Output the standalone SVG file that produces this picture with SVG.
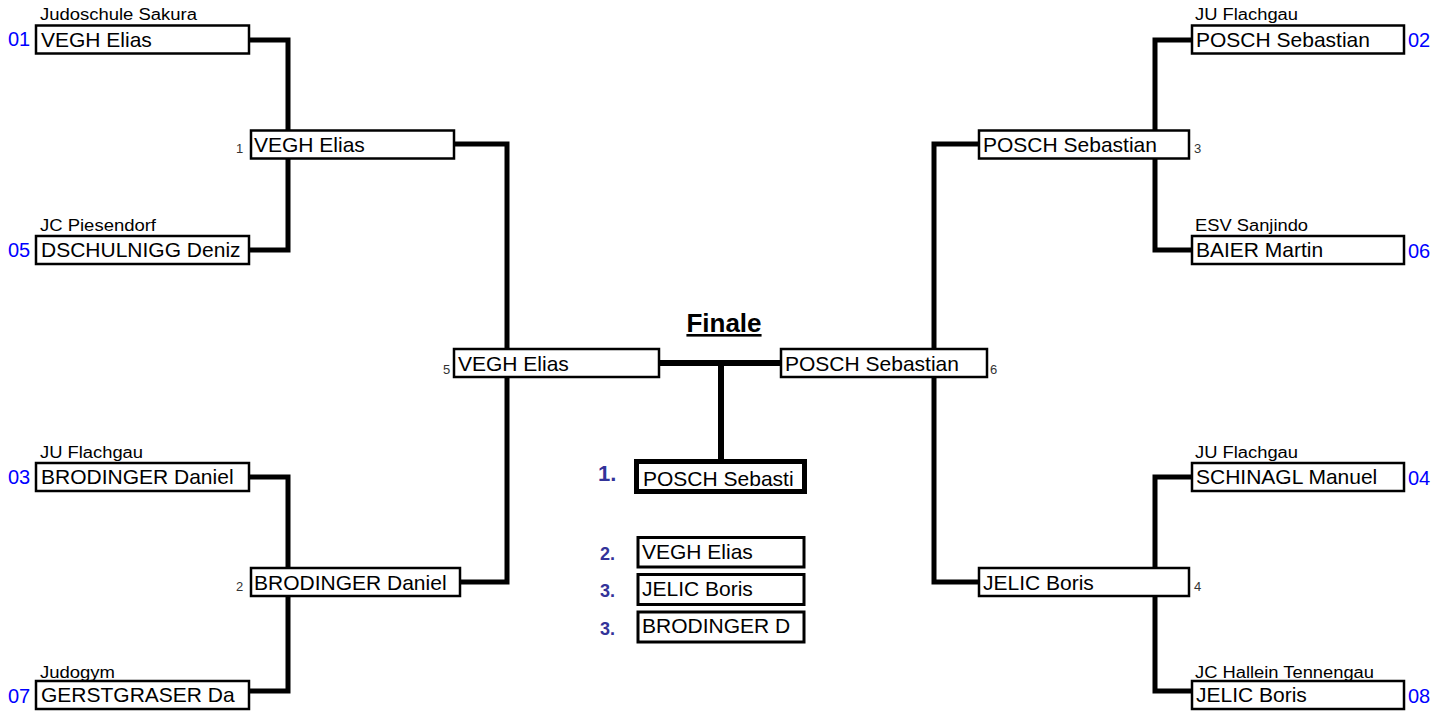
<svg xmlns="http://www.w3.org/2000/svg" width="1449" height="713" viewBox="0 0 1449 713">
<style>
.box{fill:#fff;stroke:#000;stroke-width:2.5}
.win{fill:#fff;stroke:#000;stroke-width:5}
.pl{fill:#fff;stroke:#000;stroke-width:3}
.nm{font-family:"Liberation Sans",Arial,sans-serif;font-size:21px;fill:#000}
.cl{font-family:"Liberation Sans",Arial,sans-serif;font-size:16px;fill:#000}
.sd{font-family:"Liberation Sans",Arial,sans-serif;font-size:20px;fill:#0000ff}
.rn{font-family:"Liberation Sans",Arial,sans-serif;font-size:13px;fill:#333}
.rk{font-family:"Liberation Sans",Arial,sans-serif;font-weight:bold;fill:#333399}
.ttl{font-family:"Liberation Sans",Arial,sans-serif;font-size:26px;font-weight:bold;fill:#000;text-decoration:underline}
.ln{fill:none;stroke:#000;stroke-width:5;stroke-linejoin:miter}
</style>
<rect width="1449" height="713" fill="#fff"/>
<g id="connectors">
<path class="ln" d="M249,40 H288 V250 H249"/>
<path class="ln" d="M249,477 H288 V691 H249"/>
<path class="ln" d="M454,144 H507 V582 H460"/>
<path class="ln" d="M1192,40 H1155 V250 H1192"/>
<path class="ln" d="M1192,477 H1155 V691 H1192"/>
<path class="ln" d="M979,144 H934 V582 H979"/>
<path class="ln" d="M659,363 H781" style="stroke-width:6"/>
<path class="ln" d="M721,363 V460" style="stroke-width:6"/>
</g>
<text class="ttl" x="724" y="332" text-anchor="middle">Finale</text>
<g id="n01">
<text class="cl" x="40" y="20" textLength="157" lengthAdjust="spacingAndGlyphs">Judoschule Sakura</text>
<text class="sd" x="8" y="46">01</text>
<rect class="box" x="36" y="25.5" width="213" height="28"/>
<text class="nm" x="41" y="47">VEGH Elias</text>
</g>
<g id="n05">
<text class="cl" x="40" y="231" textLength="116" lengthAdjust="spacingAndGlyphs">JC Piesendorf</text>
<text class="sd" x="8" y="257">05</text>
<rect class="box" x="36" y="236" width="213" height="28"/>
<text class="nm" x="41" y="257">DSCHULNIGG Deniz</text>
</g>
<g id="n03">
<text class="cl" x="40" y="458" textLength="103" lengthAdjust="spacingAndGlyphs">JU Flachgau</text>
<text class="sd" x="8" y="484">03</text>
<rect class="box" x="36" y="463" width="213" height="28"/>
<text class="nm" x="41" y="484">BRODINGER Daniel</text>
</g>
<g id="n07">
<text class="cl" x="40" y="678" textLength="75" lengthAdjust="spacingAndGlyphs">Judogym</text>
<text class="sd" x="8" y="703">07</text>
<rect class="box" x="36" y="681" width="213" height="28"/>
<text class="nm" x="41" y="702">GERSTGRASER Da</text>
</g>
<g id="n02">
<text class="cl" x="1195" y="20" textLength="103" lengthAdjust="spacingAndGlyphs">JU Flachgau</text>
<rect class="box" x="1192" y="25.5" width="212" height="28"/>
<text class="nm" x="1196" y="47">POSCH Sebastian</text>
<text class="sd" x="1408" y="47">02</text>
</g>
<g id="n06">
<text class="cl" x="1195" y="231" textLength="113" lengthAdjust="spacingAndGlyphs">ESV Sanjindo</text>
<rect class="box" x="1192" y="236" width="212" height="28"/>
<text class="nm" x="1196" y="257">BAIER Martin</text>
<text class="sd" x="1408" y="258">06</text>
</g>
<g id="n04">
<text class="cl" x="1195" y="458" textLength="103" lengthAdjust="spacingAndGlyphs">JU Flachgau</text>
<rect class="box" x="1192" y="463" width="212" height="28"/>
<text class="nm" x="1196" y="484">SCHINAGL Manuel</text>
<text class="sd" x="1408" y="485">04</text>
</g>
<g id="n08">
<text class="cl" x="1195" y="678" textLength="179" lengthAdjust="spacingAndGlyphs">JC Hallein Tennengau</text>
<rect class="box" x="1192" y="681" width="212" height="28"/>
<text class="nm" x="1196" y="702">JELIC Boris</text>
<text class="sd" x="1408" y="703">08</text>
</g>
<g id="m1">
<text class="rn" x="236" y="153">1</text>
<rect class="box" x="251" y="130.5" width="203" height="28"/>
<text class="nm" x="254" y="152">VEGH Elias</text>
</g>
<g id="m2">
<text class="rn" x="236" y="591">2</text>
<rect class="box" x="251" y="568" width="209" height="28"/>
<text class="nm" x="254" y="590">BRODINGER Daniel</text>
</g>
<g id="m3">
<rect class="box" x="979" y="130.5" width="210" height="28"/>
<text class="nm" x="983" y="152">POSCH Sebastian</text>
<text class="rn" x="1194" y="153">3</text>
</g>
<g id="m4">
<rect class="box" x="979" y="568" width="210" height="28"/>
<text class="nm" x="983" y="590">JELIC Boris</text>
<text class="rn" x="1194" y="591">4</text>
</g>
<g id="m5">
<text class="rn" x="443" y="374">5</text>
<rect class="box" x="454" y="349" width="205" height="28"/>
<text class="nm" x="458" y="371">VEGH Elias</text>
</g>
<g id="m6">
<rect class="box" x="781" y="349" width="206" height="28"/>
<text class="nm" x="785" y="371">POSCH Sebastian</text>
<text class="rn" x="990" y="374">6</text>
</g>
<g id="p1">
<text class="rk" x="598" y="481" style="font-size:22px">1.</text>
<rect class="win" x="636.5" y="461.5" width="168" height="30"/>
<text class="nm" x="643" y="486">POSCH Sebasti</text>
</g>
<g id="p2">
<text class="rk" x="600" y="560" style="font-size:18px">2.</text>
<rect class="pl" x="638" y="537.5" width="166" height="29.5"/>
<text class="nm" x="642" y="559">VEGH Elias</text>
</g>
<g id="p3a">
<text class="rk" x="600" y="597" style="font-size:18px">3.</text>
<rect class="pl" x="638" y="574.5" width="166" height="30"/>
<text class="nm" x="642" y="596">JELIC Boris</text>
</g>
<g id="p3b">
<text class="rk" x="600" y="635" style="font-size:18px">3.</text>
<rect class="pl" x="638" y="612" width="166" height="30"/>
<text class="nm" x="642" y="633">BRODINGER D</text>
</g>
</svg>
